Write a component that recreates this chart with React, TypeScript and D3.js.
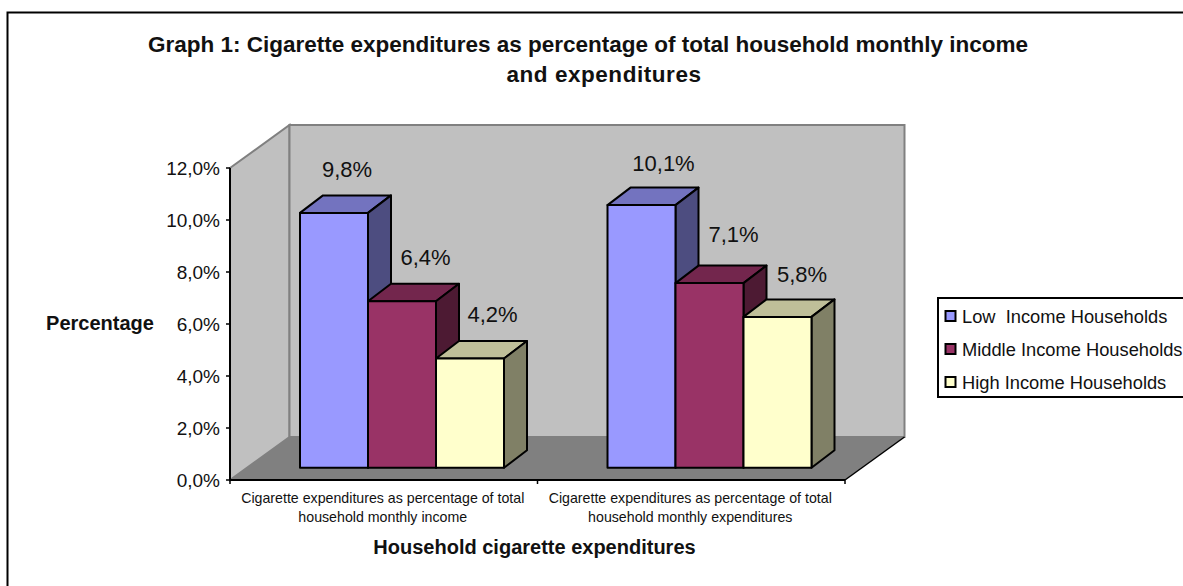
import React from "react";
import * as d3 from "d3";

const categories = [
  ["Cigarette expenditures as percentage of total", "household monthly income"],
  ["Cigarette expenditures as percentage of total", "household monthly expenditures"],
];
const seriesNames = ["Low  Income Households", "Middle Income Households", "High Income Households"];
const lowIncome = [9.8, 10.1];
const middleIncome = [6.4, 7.1];
const highIncome = [4.2, 5.8];
const yTicks = [0, 2, 4, 6, 8, 10, 12];
const titleLines = [
  "Graph 1: Cigarette expenditures as percentage of total household monthly income",
  "and expenditures",
];

const seriesValues = [lowIncome, middleIncome, highIncome];
const faceColors = ["#9999ff", "#993366", "#ffffcc"];
const topColors = ["#7373bf", "#73264d", "#bfbf99"];
const sideColors = ["#4d4d80", "#4d1a33", "#808066"];

const FONT = "'Liberation Sans', Arial, sans-serif";
const WIDTH = 1183;
const HEIGHT = 586;

// Oblique offset of the 3D box: floor/wall depth and the bar depth.
const WALL_DX = 59.5;
const WALL_DY = -43;
const BAR_DX = 23;
const BAR_DY = -17.5;
const FRONT_DY = -12.3;

// Hand-placed value labels: offset from the centre of the bar's top front edge,
// indexed by category, then series.
const labelOffsets = [
  [[13, -36], [23.5, -36], [22.5, -37]],
  [[22, -34], [24, -41.5], [24.5, -35]],
];

const y = d3.scaleLinear().domain([0, 12]).range([480, 168]);
const x0 = d3.scaleBand<number>().domain([0, 1]).range([230, 845]);
const x1 = d3.scaleBand<number>().domain([0, 1, 2]).range([70, 274]);

const pct = (v: number) => v.toFixed(1).replace(".", ",") + "%";
const poly = (pts: [number, number][]) => d3.line()(pts) + "Z";

export default function App() {
  const y0 = y(0);
  const yTop = y(12);
  const xL = x0.range()[0];
  const xR = x0.range()[1];
  const frontBase = y0 + FRONT_DY;

  return (
    <svg
      width={WIDTH}
      height={HEIGHT}
      style={{ position: "absolute", left: 0, top: 0, background: "#fff" }}
      fontFamily={FONT}
      fill="#000"
    >
      {/* Chart frame: its right and bottom edges run past the page */}
      <rect x={7.5} y={12.5} width={WIDTH + 4} height={HEIGHT + 4} fill="#fff" stroke="#000" strokeWidth={2} />

      <text x={588} y={51.5} textAnchor="middle" fontSize={22.5} fontWeight="bold" fill="#111">
        {titleLines[0]}
      </text>
      <text x={604} y={82} textAnchor="middle" fontSize={22.5} fontWeight="bold" fill="#111" letterSpacing={0.55}>
        {titleLines[1]}
      </text>

      {/* Walls and floor */}
      <path
        d={poly([[xL, yTop], [xL + WALL_DX, yTop + WALL_DY], [xL + WALL_DX, y0 + WALL_DY], [xL, y0]])}
        fill="#c0c0c0"
        stroke="#808080"
        strokeWidth={2}
      />
      <path
        d={poly([[xL + WALL_DX, yTop + WALL_DY], [xR + WALL_DX, yTop + WALL_DY], [xR + WALL_DX, y0 + WALL_DY], [xL + WALL_DX, y0 + WALL_DY]])}
        fill="#c0c0c0"
        stroke="#808080"
        strokeWidth={2}
      />
      <path
        d={poly([[xL, y0], [xL + WALL_DX, y0 + WALL_DY], [xR + WALL_DX, y0 + WALL_DY], [xR, y0]])}
        fill="#808080"
      />
      <line x1={xR} y1={y0} x2={xR + WALL_DX} y2={y0 + WALL_DY} stroke="#000" strokeWidth={1.5} />

      {/* Bars, drawn left to right so each box overlaps the previous side face */}
      {categories.map((_, c) =>
        seriesValues.map((vals, s) => {
          const left = x0(c)! + x1(s)!;
          const right = left + x1.bandwidth();
          const top = y(vals[c]) + FRONT_DY;
          const stroke = { stroke: "#000", strokeWidth: 2, strokeLinejoin: "round" as const };
          return (
            <g key={`${c}-${s}`}>
              <path
                d={poly([[left, top], [left + BAR_DX, top + BAR_DY], [right + BAR_DX, top + BAR_DY], [right, top]])}
                fill={topColors[s]}
                {...stroke}
              />
              <path
                d={poly([[right, top], [right + BAR_DX, top + BAR_DY], [right + BAR_DX, frontBase + BAR_DY], [right, frontBase]])}
                fill={sideColors[s]}
                {...stroke}
              />
              <rect x={left} y={top} width={x1.bandwidth()} height={frontBase - top} fill={faceColors[s]} {...stroke} />
            </g>
          );
        })
      )}

      {/* Value axis */}
      <line x1={xL} y1={yTop} x2={xL} y2={y0} stroke="#000" strokeWidth={2} />
      {yTicks.map((t) => (
        <g key={t}>
          <line x1={xL - 4} x2={xL} y1={y(t)} y2={y(t)} stroke="#000" strokeWidth={1.5} />
          <text x={xL - 10} y={y(t) + 7} textAnchor="end" fontSize={19} fill="#111">
            {pct(t)}
          </text>
        </g>
      ))}

      {/* Category axis */}
      <line x1={xL} y1={y0} x2={xR} y2={y0} stroke="#000" strokeWidth={2} />
      {[xL, xL + x0.step(), xR].map((tx) => (
        <line key={tx} x1={tx} x2={tx} y1={y0} y2={y0 + 4} stroke="#000" strokeWidth={1.5} />
      ))}
      {categories.map((lines, c) =>
        lines.map((t, i) => (
          <text
            key={i}
            x={x0(c)! + x0.bandwidth() / 2 - 1}
            y={502.5 + i * 19}
            textAnchor="middle"
            fontSize={14.2}
            fill="#111"
          >
            {t}
          </text>
        ))
      )}

      {/* Value labels */}
      {categories.map((_, c) =>
        seriesValues.map((vals, s) => (
          <text
            key={`${c}-${s}`}
            x={x0(c)! + x1(s)! + x1.bandwidth() / 2 + labelOffsets[c][s][0]}
            y={y(vals[c]) + FRONT_DY + labelOffsets[c][s][1]}
            textAnchor="middle"
            fontSize={22}
            fill="#111"
          >
            {pct(vals[c])}
          </text>
        ))
      )}

      {/* Axis titles */}
      <text x={100} y={330} textAnchor="middle" fontSize={20} fontWeight="bold" fill="#111">
        Percentage
      </text>
      <text x={534.5} y={553.5} textAnchor="middle" fontSize={20} fontWeight="bold" fill="#111">
        Household cigarette expenditures
      </text>

      {/* Legend */}
      <rect x={938} y={298} width={250} height={99} fill="#fff" stroke="#000" strokeWidth={2} />
      {seriesNames.map((name, i) => (
        <g key={name}>
          <rect x={945.5} y={311 + i * 33} width={10} height={10} fill={faceColors[i]} stroke="#000" strokeWidth={2} />
          <text x={962} y={323 + i * 33} fontSize={18.3} fill="#111" style={{ whiteSpace: "pre" }}>
            {name}
          </text>
        </g>
      ))}
    </svg>
  );
}
